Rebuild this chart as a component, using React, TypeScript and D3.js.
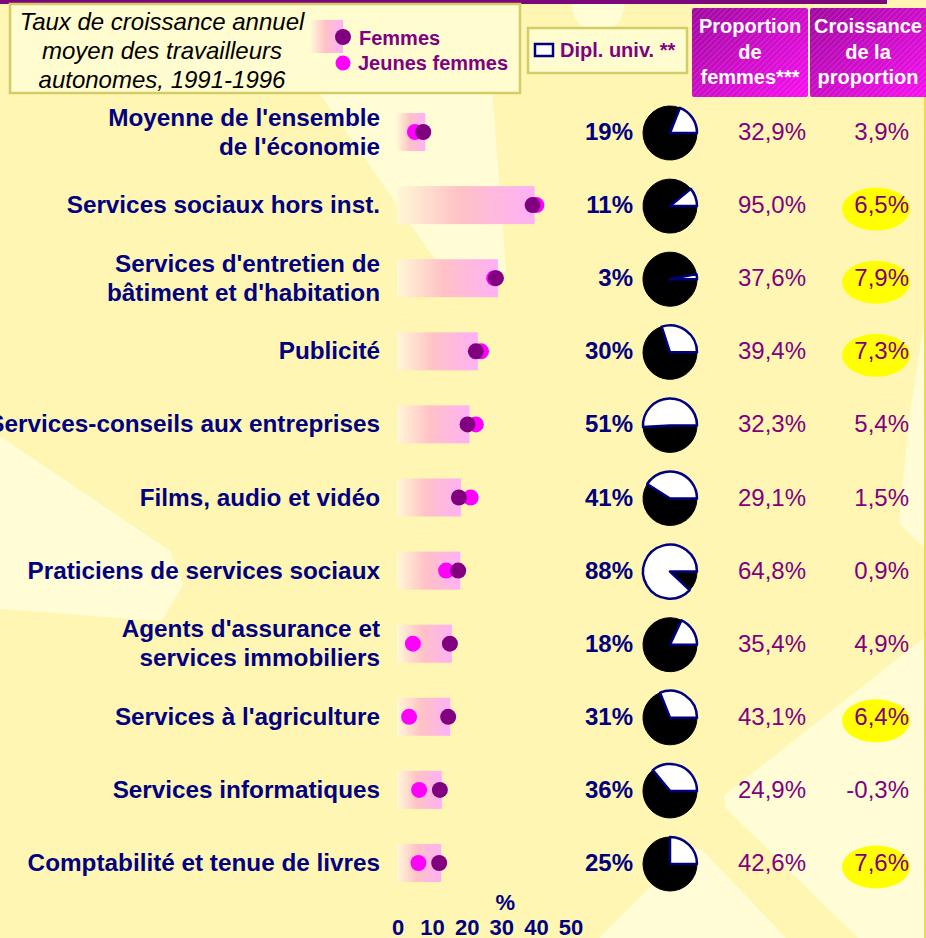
import React, { useEffect, useRef } from 'react';
import * as d3 from 'd3';

// Secteurs (étiquettes sur une ou deux lignes)
const categories = [
  ["Moyenne de l'ensemble", "de l'économie"],
  ['Services sociaux hors inst.'],
  ["Services d'entretien de", "bâtiment et d'habitation"],
  ['Publicité'],
  ['Services-conseils aux entreprises'],
  ['Films, audio et vidéo'],
  ['Praticiens de services sociaux'],
  ["Agents d'assurance et", 'services immobiliers'],
  ["Services à l'agriculture"],
  ['Services informatiques'],
  ['Comptabilité et tenue de livres'],
];

// Taux de croissance annuel moyen, 1991-1996 (%)
const femmes = [7.3, 38.9, 28.3, 22.5, 20.1, 17.6, 17.4, 15.0, 14.5, 12.1, 11.9];
const jeunesFemmes = [4.9, 40.0, 27.8, 24.0, 22.5, 21.0, 13.9, 4.3, 3.2, 6.1, 5.9];

// Part des diplômés universitaires (%)
const diplUniv = [19, 11, 3, 30, 51, 41, 88, 18, 31, 36, 25];

// Proportion de femmes et croissance de la proportion (%)
const proportionFemmes = [32.9, 95.0, 37.6, 39.4, 32.3, 29.1, 64.8, 35.4, 43.1, 24.9, 42.6];
const croissanceProportion = [3.9, 6.5, 7.9, 7.3, 5.4, 1.5, 0.9, 4.9, 6.4, -0.3, 7.6];

const xTicks = [0, 10, 20, 30, 40, 50];

const NAVY = '#000080';
const PURPLE = '#800080';
const MAGENTA = '#ff00ff';
const BG = '#fff6b4';
const LIGHT = '#fffcd6';
const FONT = '"Liberation Sans", Arial, sans-serif';

const fmt = (v: number) => v.toFixed(1).replace('.', ',') + '%';

const App = () => {
  const ref = useRef<SVGSVGElement>(null);

  useEffect(() => {
    document.body.style.margin = '0';
    const width = 926;
    const height = 938;
    const svg = d3.select(ref.current);
    svg.selectAll('*').remove();
    svg.attr('width', width).attr('height', height);

    const defs = svg.append('defs');

    const barGrad = defs.append('linearGradient').attr('id', 'barGrad');
    barGrad.append('stop').attr('offset', '0%').attr('stop-color', '#fff8d6');
    barGrad.append('stop').attr('offset', '45%').attr('stop-color', '#ffc2c6');
    barGrad.append('stop').attr('offset', '100%').attr('stop-color', '#ffb0f6');

    const headGrad = defs.append('linearGradient').attr('id', 'headGrad')
      .attr('x1', '0%').attr('y1', '0%').attr('x2', '100%').attr('y2', '100%');
    headGrad.append('stop').attr('offset', '0%').attr('stop-color', '#a008a0');
    headGrad.append('stop').attr('offset', '100%').attr('stop-color', '#f810f0');

    const hatch = defs.append('pattern').attr('id', 'hatch')
      .attr('width', 4).attr('height', 4)
      .attr('patternUnits', 'userSpaceOnUse')
      .attr('patternTransform', 'rotate(45)');
    hatch.append('line')
      .attr('x1', 0).attr('y1', 0).attr('x2', 0).attr('y2', 4)
      .attr('stroke', 'rgba(255,255,255,0.22)').attr('stroke-width', 1.2);

    // Fond avec rayons
    svg.append('rect').attr('width', width).attr('height', height).attr('fill', BG);
    const rays = [
      [[258, 0], [482, 0], [503, 270], [446, 270]],
      [[0, 440], [168, 553], [180, 585], [160, 618], [0, 606]],
      [[926, 640], [926, 938], [862, 938], [728, 806], [727, 797]],
      [[603, 938], [690, 852], [700, 852], [782, 938]],
      [[926, 330], [926, 545], [902, 522], [912, 420]],
    ];
    svg.append('g').selectAll('path').data(rays).enter().append('path')
      .attr('d', d => d3.line().curve(d3.curveLinearClosed)(d as [number, number][]))
      .attr('fill', LIGHT)
      .attr('stroke', LIGHT).attr('stroke-width', 6).attr('stroke-linejoin', 'round');
    svg.append('circle').attr('cx', 598).attr('cy', 6).attr('r', 26).attr('fill', LIGHT);
    svg.append('line').attr('x1', 925).attr('x2', 925).attr('y1', 96).attr('y2', height)
      .attr('stroke', '#f0d848').attr('stroke-width', 2);

    // Barre pourpre en haut
    svg.append('rect').attr('x', 0).attr('y', 0).attr('width', 887).attr('height', 4).attr('fill', '#7c067c');

    // Échelles
    const y = d3.scalePoint<number>().domain(d3.range(categories.length)).range([132, 863]);
    const x = d3.scaleLinear().domain([0, 50]).range([398, 571]);

    // Légende principale
    svg.append('rect').attr('x', 10).attr('y', 4).attr('width', 510).attr('height', 89)
      .attr('fill', '#fffcd0').attr('stroke', '#d4cc66').attr('stroke-width', 2.5);
    const title = ['Taux de croissance annuel', 'moyen des travailleurs', 'autonomes, 1991-1996'];
    svg.append('g').selectAll('text').data(title).enter().append('text')
      .attr('x', 162).attr('y', (d, i) => 30 + i * 29)
      .attr('text-anchor', 'middle')
      .style('font-family', FONT).style('font-size', '24px').style('font-style', 'italic')
      .attr('fill', '#000')
      .text(d => d);
    svg.append('rect').attr('x', 311).attr('y', 20).attr('width', 32).attr('height', 33).attr('fill', 'url(#barGrad)');
    svg.append('circle').attr('cx', 343).attr('cy', 37).attr('r', 8).attr('fill', PURPLE);
    svg.append('circle').attr('cx', 343).attr('cy', 63).attr('r', 7.5).attr('fill', MAGENTA);
    svg.append('text').attr('x', 359).attr('y', 45).text('Femmes')
      .style('font-family', FONT).style('font-size', '20px').style('font-weight', 'bold').attr('fill', PURPLE);
    svg.append('text').attr('x', 358).attr('y', 70).text('Jeunes femmes')
      .style('font-family', FONT).style('font-size', '20px').style('font-weight', 'bold').attr('fill', PURPLE);

    // Légende diplôme
    svg.append('rect').attr('x', 528).attr('y', 28).attr('width', 159).attr('height', 45)
      .attr('fill', '#fffcd0').attr('stroke', '#d4cc66').attr('stroke-width', 2.5);
    svg.append('rect').attr('x', 535).attr('y', 44).attr('width', 18).attr('height', 12)
      .attr('fill', '#fff').attr('stroke', NAVY).attr('stroke-width', 2.5);
    svg.append('text').attr('x', 560).attr('y', 57).text('Dipl. univ. **')
      .style('font-family', FONT).style('font-size', '20px').style('font-weight', 'bold').attr('fill', PURPLE);

    // En-têtes de colonnes
    const headers = [
      { x: 692, w: 116, lines: ['Proportion', 'de', 'femmes***'] },
      { x: 810, w: 118, lines: ['Croissance', 'de la', 'proportion'] },
    ];
    headers.forEach(h => {
      svg.append('rect').attr('x', h.x).attr('y', 8).attr('width', h.w).attr('height', 89)
        .attr('rx', 2).attr('fill', 'url(#headGrad)');
      svg.append('rect').attr('x', h.x).attr('y', 8).attr('width', h.w).attr('height', 89)
        .attr('rx', 2).attr('fill', 'url(#hatch)');
      svg.append('g').selectAll('text').data(h.lines).enter().append('text')
        .attr('x', h.x + 58).attr('y', (d, i) => 33 + i * 25.5)
        .attr('text-anchor', 'middle')
        .style('font-family', FONT).style('font-size', '20px').style('font-weight', 'bold')
        .attr('fill', '#fff')
        .text(d => d);
    });

    const rows = svg.append('g').selectAll('g.row')
      .data(categories.map((c, i) => i))
      .enter().append('g').attr('class', 'row')
      .attr('transform', i => `translate(0,${y(i)})`);

    // Étiquettes des secteurs
    rows.each(function (i) {
      const lines = categories[i];
      const off = (lines.length - 1) * 14.5;
      d3.select(this).selectAll('text.cat').data(lines).enter().append('text')
        .attr('class', 'cat')
        .attr('x', 380).attr('y', (d, k) => 8 - off + k * 29)
        .attr('text-anchor', 'end')
        .style('font-family', FONT).style('font-size', '24.3px').style('font-weight', 'bold')
        .attr('fill', NAVY)
        .text(d => d);
    });

    // Barres et points
    rows.append('rect')
      .attr('x', x(0) - 1).attr('y', -19).attr('height', 38)
      .attr('width', i => x(femmes[i]) - x(0) + 3)
      .attr('fill', 'url(#barGrad)');
    rows.append('circle')
      .attr('cx', i => x(jeunesFemmes[i])).attr('cy', 0).attr('r', 8)
      .attr('fill', MAGENTA);
    rows.append('circle')
      .attr('cx', i => x(femmes[i])).attr('cy', 0).attr('r', 8)
      .attr('fill', PURPLE);

    // Diplômés universitaires
    rows.append('text')
      .attr('x', 633).attr('y', 8).attr('text-anchor', 'end')
      .style('font-family', FONT).style('font-size', '24px').style('font-weight', 'bold')
      .attr('fill', NAVY)
      .text(i => `${diplUniv[i]}%`);

    const r = 27;
    const arc = d3.arc<{ s: number; e: number }>()
      .innerRadius(0).outerRadius(r)
      .startAngle(d => d.s).endAngle(d => d.e);
    const pies = rows.append('g').attr('transform', 'translate(670,1)');
    pies.append('path')
      .attr('d', i => {
        const p = diplUniv[i] / 100;
        return arc({ s: Math.PI / 2, e: Math.PI / 2 + (1 - p) * 2 * Math.PI });
      })
      .attr('fill', '#000').attr('stroke', '#000').attr('stroke-width', 1);
    pies.append('path')
      .attr('d', i => {
        const p = diplUniv[i] / 100;
        return arc({ s: Math.PI / 2 - p * 2 * Math.PI, e: Math.PI / 2 });
      })
      .attr('fill', '#fff').attr('stroke', NAVY).attr('stroke-width', 2.5)
      .attr('stroke-linejoin', 'round');

    // Proportion de femmes
    rows.append('text')
      .attr('x', 806).attr('y', 8).attr('text-anchor', 'end')
      .style('font-family', FONT).style('font-size', '24px')
      .attr('fill', PURPLE)
      .text(i => fmt(proportionFemmes[i]));

    // Croissance de la proportion (surlignée si > 6 %)
    rows.filter(i => croissanceProportion[i] > 6).append('ellipse')
      .attr('cx', 876).attr('cy', 4).attr('rx', 34).attr('ry', 21.5)
      .attr('fill', '#ffff00');
    rows.append('text')
      .attr('x', 909).attr('y', 8).attr('text-anchor', 'end')
      .style('font-family', FONT).style('font-size', '24px')
      .attr('fill', PURPLE)
      .text(i => fmt(croissanceProportion[i]));

    // Axe des x
    const axis = svg.append('g');
    axis.selectAll('text').data(xTicks).enter().append('text')
      .attr('x', d => x(d)).attr('y', 935).attr('text-anchor', 'middle')
      .style('font-family', FONT).style('font-size', '22px').style('font-weight', 'bold')
      .attr('fill', NAVY)
      .text(d => d);
    axis.append('text')
      .attr('x', x(31)).attr('y', 910).attr('text-anchor', 'middle')
      .style('font-family', FONT).style('font-size', '22px').style('font-weight', 'bold')
      .attr('fill', NAVY)
      .text('%');
  }, []);

  return <svg ref={ref} style={{ position: 'absolute', left: 0, top: 0, display: 'block' }}></svg>;
};

export default App;
